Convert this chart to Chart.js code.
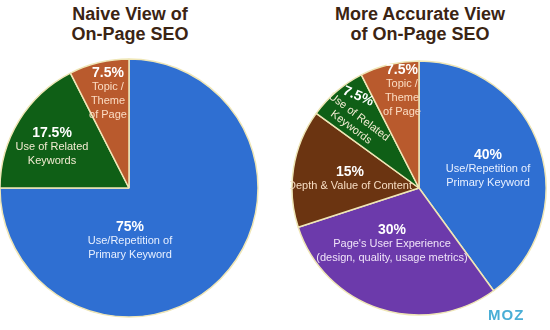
<!DOCTYPE html>
<html>
<head>
<meta charset="utf-8">
<script src="https://cdn.jsdelivr.net/npm/chart.js@4"></script>
<style>
  html, body { margin: 0; padding: 0; background: #fff; }
  #wrap { position: relative; width: 550px; height: 330px; overflow: hidden; font-family: "Liberation Sans", Arial, sans-serif; }
  .title { position: absolute; top: 4px; width: 240px; text-align: center; font-weight: bold; font-size: 18px; line-height: 20px; color: #3b2413; }
  canvas { position: absolute; }
  #moz { position: absolute; left: 488px; top: 306px; font-weight: bold; font-size: 15px; letter-spacing: 1px; color: #4aaed6; }
</style>
</head>
<body>
<div id="wrap">
  <div class="title" style="left:10px">Naive View of<br>On-Page SEO</div>
  <div class="title" style="left:300px">More Accurate View<br>of On-Page SEO</div>
  <canvas id="naiveChart" width="262" height="262" style="left:-2px; top:57px"></canvas>
  <canvas id="accurateChart" width="258" height="258" style="left:290px; top:59px"></canvas>
  <div id="moz">MOZ</div>
</div>
<script>
// naive view
const naiveValues = [75, 17.5, 7.5];
const naivePercents = ['75%', '17.5%', '7.5%'];
const naiveLabels = [
  ['Use/Repetition of', 'Primary Keyword'],
  ['Use of Related', 'Keywords'],
  ['Topic /', 'Theme', 'of Page']
];

// more accurate view
const accurateValues = [40, 30, 15, 7.5, 7.5];
const accuratePercents = ['40%', '30%', '15%', '7.5%', '7.5%'];
const accurateLabels = [
  ['Use/Repetition of', 'Primary Keyword'],
  ["Page's User Experience", '(design, quality, usage metrics)'],
  ['Depth & Value of Content'],
  ['Use of Related', 'Keywords'],
  ['Topic /', 'Theme', 'of Page']
];

const BLUE = '#2f6fd2', GREEN = '#0f5f16', RUST = '#b95a2d', PURPLE = '#6c3aab', BROWN = '#6b3411';

// where each slice's text block sits, relative to the pie centre
const naiveTextPos = [
  { x: 1, y: 39, gap: 14 },
  { x: -77, y: -55, gap: 14 },
  { x: -21, y: -115, gap: 14 }
];
const accurateTextPos = [
  { x: 69, y: -33, gap: 14 },
  { x: -27, y: 42, gap: 14 },
  { x: -69, y: -16, gap: 14 },
  // the narrow green wedge gets its text tilted along the slice
  { x: -60, y: -71, gap: 13, rot: 37, px: -13, py: -16, prot: -14 },
  { x: -17, y: -118, gap: 14 }
];
const naiveTextColors = ['#e8f0ff', '#f3ecd2', '#fbdcc3'];
const accurateTextColors = ['#e8f0ff', '#efe3f8', '#f7dcc2', '#f3ecd2', '#fbdcc3'];

const sliceText = {
  id: 'sliceText',
  afterDatasetsDraw(chart, args, opts) {
    const ctx = chart.ctx;
    const arc = chart.getDatasetMeta(0).data[0];
    const cx = arc.x, cy = arc.y;
    ctx.save();
    ctx.textAlign = 'center';
    ctx.textBaseline = 'middle';
    opts.percents.forEach((pct, i) => {
      const p = opts.pos[i];
      ctx.save();
      ctx.translate(cx + p.x, cy + p.y);
      if (p.rot) ctx.rotate(p.rot * Math.PI / 180);
      ctx.font = 'bold 14px "Liberation Sans", Arial, sans-serif';
      ctx.fillStyle = '#ffffff';
      ctx.save();
      ctx.translate(p.px || 0, p.py || 0);
      if (p.prot) ctx.rotate(p.prot * Math.PI / 180);
      ctx.fillText(pct, 0, 0);
      ctx.restore();
      ctx.font = '11px "Liberation Sans", Arial, sans-serif';
      ctx.fillStyle = opts.colors[i];
      const startY = p.rot ? 0 : p.gap;
      opts.lines[i].forEach((line, j) => {
        ctx.fillText(line, 0, startY + j * p.gap);
      });
      ctx.restore();
    });
    ctx.restore();
  }
};

function makePie(canvasId, values, colors, radius, text) {
  return new Chart(document.getElementById(canvasId), {
    type: 'pie',
    data: {
      labels: text.percents,
      datasets: [{
        data: values,
        backgroundColor: colors,
        borderColor: '#efe6b6',
        borderWidth: 1.5
      }]
    },
    options: {
      responsive: false,
      animation: false,
      radius: radius,
      layout: { padding: 0 },
      plugins: {
        legend: { display: false },
        tooltip: { enabled: false },
        sliceText: text
      }
    },
    plugins: [sliceText]
  });
}

makePie('naiveChart', naiveValues, [BLUE, GREEN, RUST], 129, {
  percents: naivePercents, lines: naiveLabels, pos: naiveTextPos, colors: naiveTextColors
});
makePie('accurateChart', accurateValues, [BLUE, PURPLE, BROWN, GREEN, RUST], 127, {
  percents: accuratePercents, lines: accurateLabels, pos: accurateTextPos, colors: accurateTextColors
});
</script>
</body>
</html>
